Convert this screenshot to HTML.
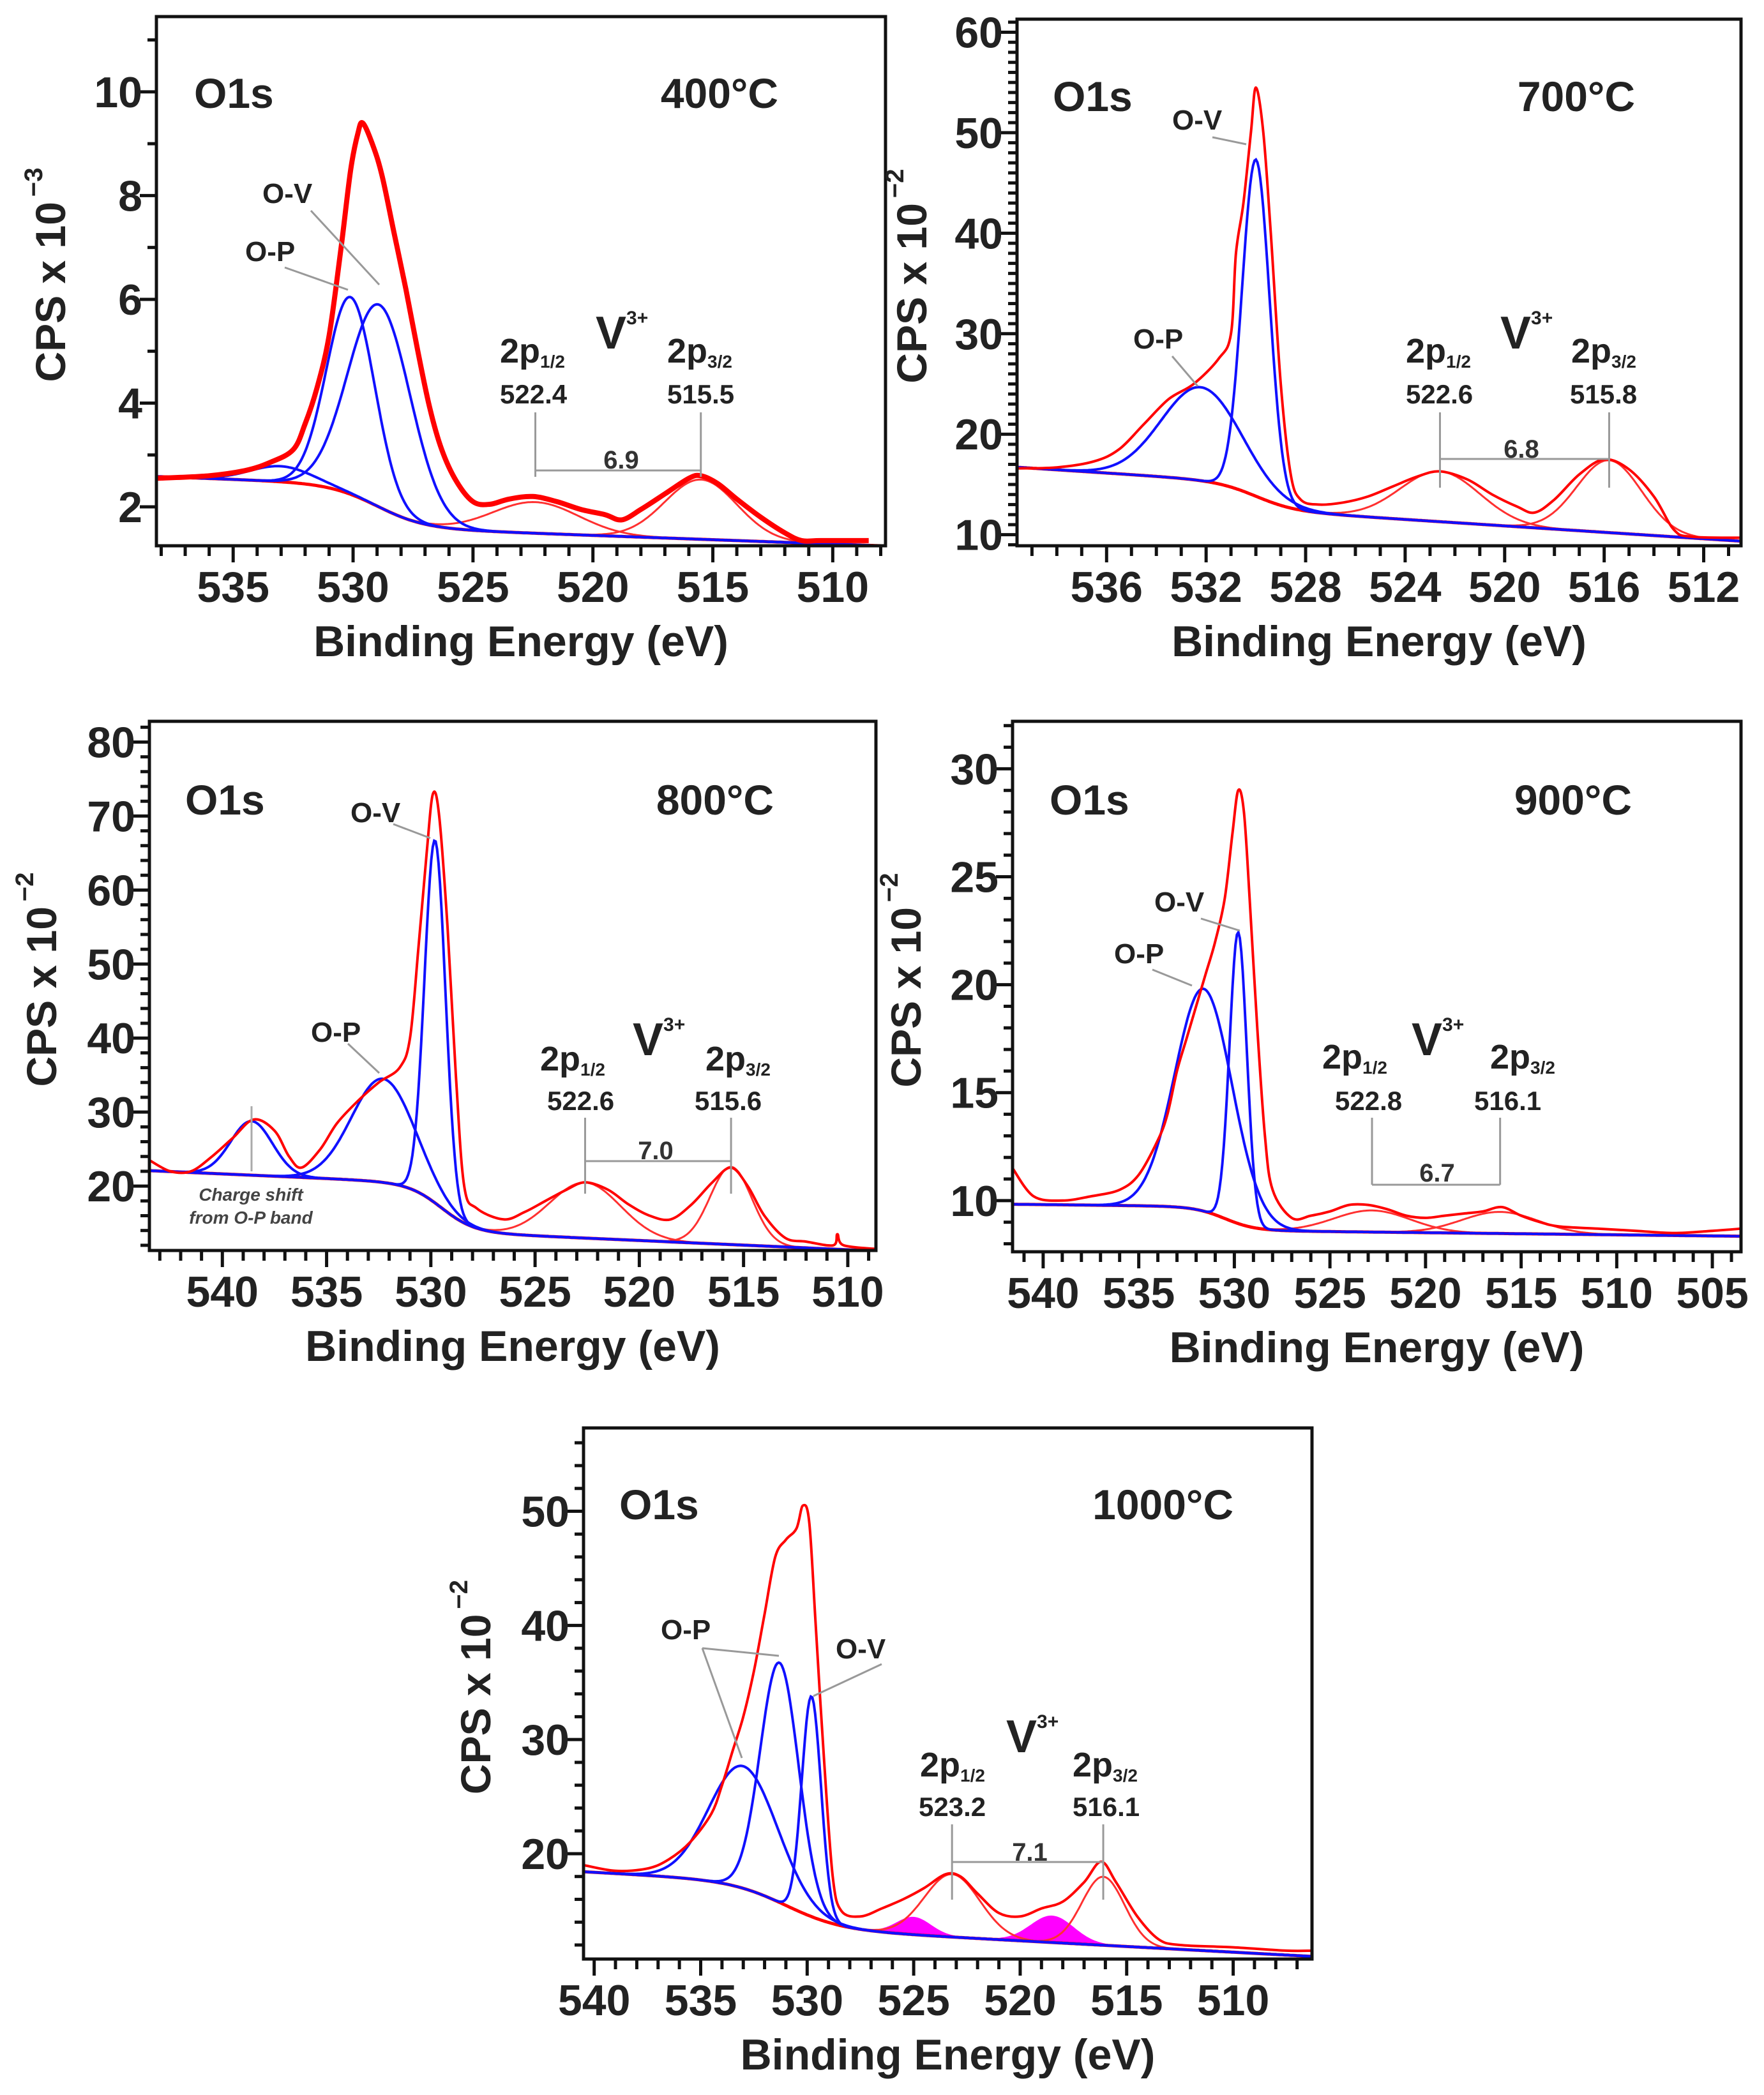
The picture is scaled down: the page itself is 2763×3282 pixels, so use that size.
<!DOCTYPE html>
<html><head><meta charset="utf-8"><title>O1s XPS spectra</title>
<style>
html,body{margin:0;padding:0;background:#fff;}
svg{display:block;}
text{font-family:"Liberation Sans",Arial,sans-serif;}
</style></head>
<body>
<svg id="fig" width="2763" height="3282" viewBox="0 0 2763 3282" xmlns="http://www.w3.org/2000/svg"></svg>
<script>
// ===== Panel 1 : 400°C (x10^-3) =====
const p1Energy = [538.2,536,534.5,533.5,532.5,532,531.5,531,530.5,530.1,529.8,529.6,529.2,528.8,528.3,527.8,527.3,526.8,526.3,525.7,525,524.3,523.5,522.5,521.5,520.5,519.5,518.8,518,517,516,515.5,514.8,514,513,512,511.3,510.5,508.5];
const p1Counts = [2.55,2.6,2.7,2.85,3.1,3.6,4.3,5.3,7.0,8.5,9.2,9.4,9.0,8.4,7.3,6.2,5.0,3.9,3.1,2.5,2.1,2.05,2.15,2.2,2.1,1.95,1.85,1.75,1.95,2.25,2.55,2.6,2.45,2.15,1.8,1.5,1.35,1.35,1.35];
const p1OCenters = [533.0,530.1,528.9];
const p1OHeights = [0.3,3.8,3.9];
const p1OWidths = [1.3,1.0,1.3];
const p1VCenters = [522.4,515.5];
const p1VHeights = [0.6,1.15];
const p1VWidths = [1.8,1.5];
const p1Bg = [1.3,511,0.0167,0.83,529,1.0];
const p1XTicks = [535,530,525,520,515,510];
const p1YTicks = [2,4,6,8,10];

// ===== Panel 2 : 700°C =====
const p2Energy = [539.6,538,536.5,535.5,534.5,533.5,532.5,531.5,531,530.8,530.5,530.2,530.0,529.7,529.4,529,528.6,528.2,527.5,526.5,525.5,524.5,523.5,522.6,521.5,520.5,519.5,518.8,518,517,516,515,514,513.2,512.5,510.5];
const p2Counts = [16.6,16.7,17.3,18.5,21,23.5,25,27.5,30,38,43,50,54.5,50,40,25,16,13.5,13,13.2,13.8,14.8,15.8,16.3,15.5,14,12.8,12.2,13.5,16,17.5,16.5,13.8,10.5,9.8,9.7];
const p2OCenters = [532.2,530.0];
const p2OHeights = [9.3,33.5];
const p2OWidths = [1.6,0.55];
const p2VCenters = [522.6,515.8];
const p2VHeights = [5,7.2];
const p2VWidths = [1.6,1.3];
const p2Bg = [9.6,512,0.16,2.7,530,0.8];
const p2XTicks = [536,532,528,524,520,516,512];
const p2YTicks = [10,20,30,40,50,60];

// ===== Panel 3 : 800°C =====
const p3Energy = [543.5,542.5,541.5,540.5,539.5,538.5,537.5,536.8,536.2,535.3,534.5,533.5,532.5,531.5,531,530.6,530.2,529.9,529.6,529.2,528.8,528.4,527.8,526.5,525.5,524.5,523.5,522.6,521.5,520.5,519.5,518.5,517.5,516.5,515.6,514.8,514,513,512,510.7,510.5,510.2,508.6];
const p3Counts = [23.5,22,22,24,26.5,29,27.5,24,22.5,25,28.5,31.5,34,36,40,52,65,73,70,55,35,20,17,15.5,16.5,18,19.5,20.5,19.5,17.5,16,15.5,17.5,20.5,22.5,20,16,13,12.5,12,13.5,12,11.5];
const p3OCenters = [538.6,532.3,529.8];
const p3OHeights = [7.3,14,49];
const p3OWidths = [1.0,1.5,0.5];
const p3VCenters = [522.6,515.6];
const p3VHeights = [7.5,10.5];
const p3VWidths = [1.7,1.0];
const p3Bg = [11.4,510,0.125,6.5,529.5,0.8];
const p3XTicks = [540,535,530,525,520,515,510];
const p3YTicks = [20,30,40,50,60,70,80];

// ===== Panel 4 : 900°C =====
const p4Energy = [541.6,540.5,539,537.5,536,535,534,533.5,533,532.5,532,531.5,531,530.5,530.1,529.8,529.5,529.2,528.8,528.4,528,527,526,525,524,523,522,521,520,519,518,517,516,515,514,513,511,509,507,505,503.5];
const p4Counts = [11.5,10.2,10,10.2,10.5,11.2,12.8,14,16,17.5,19,20.5,22,24,27,29,28,24,18,13,10.5,9.2,9.3,9.5,9.8,9.8,9.6,9.3,9.2,9.3,9.4,9.5,9.7,9.3,9.0,8.8,8.7,8.6,8.5,8.6,8.7];
const p4OCenters = [531.6,529.8];
const p4OHeights = [10.3,13.5];
const p4OWidths = [1.5,0.45];
const p4VCenters = [522.8,516.1];
const p4VHeights = [1.0,1.0];
const p4VWidths = [2.0,2.0];
const p4Bg = [8.35,503.5,0.01,1.1,530.5,0.8];
const p4XTicks = [540,535,530,525,520,515,510,505];
const p4YTicks = [10,15,20,25,30];

// ===== Panel 5 : 1000°C =====
const p5Energy = [540.5,539,537.5,536.5,535.5,534.5,534,533.5,533,532.5,532,531.5,531,530.5,530.2,529.9,529.6,529.2,528.8,528.4,527.5,526.5,525.5,524.5,523.5,522.8,522,521,520,519,518,517,516.2,515.5,514.5,513.5,512.5,510,507.5,506.3];
const p5Counts = [19,18.5,18.7,19.5,21,23.5,26,29,32,36,41,46,47.5,48.5,50.5,49,40,28,18,15,14.5,15.2,16,17,18.2,18,16.5,14.8,14.5,15.2,15.8,17.5,19.3,17.5,14.5,12.5,12,11.8,11.5,11.5];
const p5OCenters = [533.0,531.3,529.8];
const p5OHeights = [10.7,21,19.3];
const p5OWidths = [1.6,0.9,0.45];
const p5VCenters = [523.2,516.1];
const p5VHeights = [5.5,6.0];
const p5VWidths = [1.3,1.0];
const p5SatCenters = [525.0,518.5];
const p5SatHeights = [1.5,2.3];
const p5SatWidths = [0.8,1.0];
const p5Bg = [11.0,506.3,0.1,4,531,1.3];
const p5XTicks = [540,535,530,525,520,515,510];
const p5YTicks = [20,30,40,50];

const NS = "http://www.w3.org/2000/svg";
const svg = document.getElementById('fig');
function el(tag, attrs, parent, txt){
  const e = document.createElementNS(NS, tag);
  for (const k in attrs) e.setAttribute(k, attrs[k]);
  if (txt !== undefined) e.textContent = txt;
  (parent||svg).appendChild(e);
  return e;
}
function bgVal(p, e){
  return p[0] + p[2]*(e - p[1]) + p[3]/(1+Math.exp(-(e - p[4])/p[5]));
}
function gauss(c,h,w,e){ return h*Math.exp(-Math.pow((e-c)/w,2)/2); }
function smoothPath(pts){
  let d = 'M'+pts[0][0].toFixed(1)+','+pts[0][1].toFixed(1);
  for (let i=0;i<pts.length-1;i++){
    const p0 = pts[Math.max(0,i-1)], p1 = pts[i], p2 = pts[i+1], p3 = pts[Math.min(pts.length-1,i+2)];
    const c1x = p1[0]+(p2[0]-p0[0])/6, c1y = p1[1]+(p2[1]-p0[1])/6;
    const c2x = p2[0]-(p3[0]-p1[0])/6, c2y = p2[1]-(p3[1]-p1[1])/6;
    d += ' C'+c1x.toFixed(1)+','+c1y.toFixed(1)+' '+c2x.toFixed(1)+','+c2y.toFixed(1)+' '+p2[0].toFixed(1)+','+p2[1].toFixed(1);
  }
  return d;
}

const panels = [
 {id:'400', title:'400°C', exp:'−3', box:[245,26,1387,855], xr:[538.2,507.8], yr:[1.25,11.45], xMinor:1, yMinor:1,
  E:p1Energy, C:p1Counts, oc:p1OCenters, oh:p1OHeights, ow:p1OWidths, vc:p1VCenters, vh:p1VHeights, vw:p1VWidths, bg:p1Bg, xt:p1XTicks, yt:p1YTicks, redW:8,
  ylabX:85, o1s:[304,169], temp:[1219,169],
  ann:{ov:[411,318,487,330,594,446], op:[384,409,446,419,545,454], p12:[783,568], V:[933,546], p32:[1045,568], n1:['522.4',783,632], n2:['515.5',1045,632], vtop:646, vbot:747, hy:737, sep:['6.9',973,734]}},
 {id:'700', title:'700°C', exp:'−2', box:[1593,30,2727,855], xr:[539.6,510.5], yr:[8.9,61.3], xMinor:1, yMinor:1,
  E:p2Energy, C:p2Counts, oc:p2OCenters, oh:p2OHeights, ow:p2OWidths, vc:p2VCenters, vh:p2VHeights, vw:p2VWidths, bg:p2Bg, xt:p2XTicks, yt:p2YTicks, redW:4,
  ylabX:1434, o1s:[1649,174], temp:[2561,174],
  ann:{ov:[1836,203,1899,215,1952,226], op:[1775,546,1836,558,1876,605], p12:[2202,568], V:[2350,546], p32:[2461,568], n1:['522.6',2202,632], n2:['515.8',2459,632], vtop:646, vbot:764, hy:719, sep:['6.8',2383,717]}},
 {id:'800', title:'800°C', exp:'−2', box:[234,1130,1372,1959], xr:[543.5,508.65], yr:[11.3,82.8], xMinor:1, yMinor:2,
  E:p3Energy, C:p3Counts, oc:p3OCenters, oh:p3OHeights, ow:p3OWidths, vc:p3VCenters, vh:p3VHeights, vw:p3VWidths, bg:p3Bg, xt:p3XTicks, yt:p3YTicks, redW:4,
  ylabX:71, o1s:[290,1276], temp:[1212,1276],
  ann:{ov:[549,1288,616,1291,674,1313], op:[487,1632,545,1635,594,1681], p12:[846,1677], V:[991,1653], p32:[1105,1677], n1:['522.6',857,1739], n2:['515.6',1088,1739], vtop:1751, vbot:1870, hy:1819, sep:['7.0',1027,1816]},
  charge:true},
 {id:'900', title:'900°C', exp:'−2', box:[1586,1130,2727,1961], xr:[541.6,503.5], yr:[7.63,32.2], xMinor:1, yMinor:1,
  E:p4Energy, C:p4Counts, oc:p4OCenters, oh:p4OHeights, ow:p4OWidths, vc:p4VCenters, vh:p4VHeights, vw:p4VWidths, bg:p4Bg, xt:p4XTicks, yt:p4YTicks, redW:4,
  ylabX:1425, o1s:[1644,1276], temp:[2556,1276],
  ann:{ov:[1808,1428,1881,1439,1942,1458], op:[1745,1509,1805,1519,1867,1544], p12:[2071,1674], V:[2211,1653], p32:[2334,1674], n1:['522.8',2091,1739], n2:['516.1',2309,1739], vtop:1751, vbot:1856, hy:1856, sep:['6.7',2251,1851]}},
 {id:'1000', title:'1000°C', exp:'−2', box:[914,2237,2055,3069], xr:[540.5,506.3], yr:[10.77,57.3], xMinor:1, yMinor:2,
  E:p5Energy, C:p5Counts, oc:p5OCenters, oh:p5OHeights, ow:p5OWidths, vc:p5VCenters, vh:p5VHeights, vw:p5VWidths, bg:p5Bg, xt:p5XTicks, yt:p5YTicks, redW:4,
  ylabX:751, o1s:[970,2380], temp:[1932,2380],
  ann:{op:[1035,2568,1100,2582,1220,2594], op2:[1100,2582,1162,2754], ov:[1309,2598,1381,2607,1274,2657], p12:[1441,2783], V:[1576,2745], p32:[1680,2783], n1:['523.2',1439,2845], n2:['516.1',1680,2845], vtop:2858, vbot:2976, hy:2917, sep:['7.1',1613,2915]},
  sat:true}
];

panels.forEach(P => {
  const [L,T,R,B] = P.box;
  const g = el('g', {});
  
  
  const xS = e => L + (P.xr[0]-e)/(P.xr[0]-P.xr[1])*(R-L);
  const yS = v => B - (v-P.yr[0])/(P.yr[1]-P.yr[0])*(B-T);
  const clipId = 'clip'+P.id;
  const cp = el('clipPath', {id:clipId}, g);
  el('rect', {x:L, y:T, width:R-L, height:B-T}, cp);
  const plot = el('g', {'clip-path':'url(#'+clipId+')'}, g);
  
  

  const N = 500;
  const es = [];
  for (let i=0;i<=N;i++) es.push(P.xr[0] - (P.xr[0]-P.xr[1])*i/N);
  const pathOf = (arrE, f) => arrE.map((e,i)=> (i?'L':'M')+xS(e).toFixed(1)+','+yS(f(e,i)).toFixed(1)).join(' ');

  if (P.sat) {
    p5SatCenters.forEach((c,k)=>{
      const ee = es.filter(e=>Math.abs(e-c)<3.5*p5SatWidths[k]);
      let d = pathOf(ee, e=>bgVal(P.bg,e)+gauss(c,p5SatHeights[k],p5SatWidths[k],e));
      d += ' ' + ee.slice().reverse().map(e=>'L'+xS(e).toFixed(1)+','+yS(bgVal(P.bg,e)).toFixed(1)).join(' ') + ' Z';
      const s = el('path', {d:d, fill:'#ff00ff', stroke:'#ff00ff', 'stroke-width':2}, plot);
      
      
    });
  }
  P.vc.forEach((c,k)=>{
    const ee = es.filter(e=>Math.abs(e-c)<3.5*P.vw[k]);
    const s = el('path', {d:pathOf(ee, e=>bgVal(P.bg,e)+gauss(c,P.vh[k],P.vw[k],e)), fill:'none', stroke:'#ff3030', 'stroke-width':3}, plot);
    
    
  });
  const bgp = el('path', {d:pathOf(es, e=>bgVal(P.bg,e)), fill:'none', stroke:'#ff0000', 'stroke-width':5}, plot);
  
  
  P.oc.forEach((c,k)=>{
    const s = el('path', {d:pathOf(es, e=>bgVal(P.bg,e)+gauss(c,P.oh[k],P.ow[k],e)), fill:'none', stroke:'#1010ff', 'stroke-width':4}, plot);
    
    
  });
  const mpts = P.E.map((e,i)=>[xS(e), yS(P.C[i])]);
  const m = el('path', {d:smoothPath(mpts), fill:'none', stroke:'#ff0000', 'stroke-width':P.redW, 'stroke-linejoin':'round'}, plot);
  
  

  const fr = el('rect', {x:L, y:T, width:R-L, height:B-T, fill:'none', stroke:'#111', 'stroke-width':5}, g);
  
  

  const xa = el('g', {}, g);
  
  
  for (let v=Math.ceil(P.xr[1]); v<=Math.floor(P.xr[0]); v+=P.xMinor) {
    const major = P.xt.indexOf(v) >= 0;
    el('line', {x1:xS(v), x2:xS(v), y1:B, y2:B+(major?26:16), stroke:'#111', 'stroke-width':5}, xa);
  }
  P.xt.forEach(v=>{
    const t = el('text', {x:xS(v), y:B+88, 'text-anchor':'middle', 'font-size':68, 'font-weight':'bold', fill:'#222'}, xa, String(v));
    
    
  });
  const xt = el('text', {x:(L+R)/2, y:B+173, 'text-anchor':'middle', 'font-size':68, 'font-weight':'bold', fill:'#222'}, g, 'Binding Energy (eV)');
  
  

  const ya = el('g', {}, g);
  
  
  for (let v=Math.ceil(P.yr[0]/P.yMinor)*P.yMinor; v<=P.yr[1]; v+=P.yMinor) {
    const major = P.yt.indexOf(v) >= 0;
    el('line', {x1:L-(major?26:14), x2:L, y1:yS(v), y2:yS(v), stroke:'#111', 'stroke-width':5}, ya);
  }
  P.yt.forEach(v=>{
    const t = el('text', {x:L-22, y:yS(v)+24, 'text-anchor':'end', 'font-size':68, 'font-weight':'bold', fill:'#222'}, ya, String(v));
    
    
  });
  const yc = (T+B)/2 - 10;
  const yl = el('text', {x:P.ylabX, y:yc, transform:'rotate(-90 '+P.ylabX+' '+yc+')', 'text-anchor':'middle', 'dominant-baseline':'middle', 'font-size':66, 'font-weight':'bold', fill:'#222'}, g);
  
  
  el('tspan', {}, yl, 'CPS x 10');
  el('tspan', {'font-size':40, dy:-30, dx:8}, yl, P.exp);

  const o = el('text', {x:P.o1s[0], y:P.o1s[1], 'font-size':66, 'font-weight':'bold', fill:'#222'}, g, 'O1s');
  
  
  const tt = el('text', {x:P.temp[0], y:P.temp[1], 'text-anchor':'end', 'font-size':66, 'font-weight':'bold', fill:'#222'}, g, P.title);
  
  

  const A = P.ann;
  const ag = el('g', {}, g);
  
  
  const lbl = (txt,x,y,size,name)=>{ const t=el('text',{x:x,y:y,'font-size':size,'font-weight':'bold',fill:'#222'},ag,txt);   return t; };
  lbl('O-V', A.ov[0], A.ov[1], 44, 'o-v-label');
  el('line', {x1:A.ov[2],y1:A.ov[3],x2:A.ov[4],y2:A.ov[5],stroke:'#999','stroke-width':3}, ag);
  lbl('O-P', A.op[0], A.op[1], 44, 'o-p-label');
  el('line', {x1:A.op[2],y1:A.op[3],x2:A.op[4],y2:A.op[5],stroke:'#999','stroke-width':3}, ag);
  if (A.op2) el('line', {x1:A.op2[0],y1:A.op2[1],x2:A.op2[2],y2:A.op2[3],stroke:'#999','stroke-width':3}, ag);
  const p12 = lbl('2p', A.p12[0], A.p12[1], 54, 'v2p12-label');
  el('tspan', {'font-size':28, dy:8}, p12, '1/2');
  const V = lbl('V', A.V[0], A.V[1], 72, 'v3plus-label');
  el('tspan', {'font-size':30, dy:-38}, V, '3+');
  const p32 = lbl('2p', A.p32[0], A.p32[1], 54, 'v2p32-label');
  el('tspan', {'font-size':28, dy:8}, p32, '3/2');
  lbl(A.n1[0], A.n1[1], A.n1[2], 42, 'peak-position-label');
  lbl(A.n2[0], A.n2[1], A.n2[2], 42, 'peak-position-label');
  const x1 = xS(parseFloat(A.n1[0])), x2 = xS(parseFloat(A.n2[0]));
  el('line', {x1:x1,x2:x1,y1:A.vtop,y2:A.vbot,stroke:'#999','stroke-width':3}, ag);
  el('line', {x1:x2,x2:x2,y1:A.vtop,y2:A.vbot,stroke:'#999','stroke-width':3}, ag);
  el('line', {x1:x1,x2:x2,y1:A.hy,y2:A.hy,stroke:'#999','stroke-width':3}, ag);
  const sp = el('text', {x:A.sep[1], y:A.sep[2], 'text-anchor':'middle', 'font-size':40, 'font-weight':'bold', fill:'#333'}, ag, A.sep[0]);
  
  
  if (P.charge) {
    const cx = xS(538.6);
    el('line', {x1:cx,x2:cx,y1:1733,y2:1835,stroke:'#aaa','stroke-width':3}, ag);
    const c1 = el('text', {x:393, y:1881, 'text-anchor':'middle', 'font-size':28, 'font-style':'italic', 'font-weight':'bold', fill:'#444'}, ag, 'Charge shift');
    
    
    const c2 = el('text', {x:393, y:1917, 'text-anchor':'middle', 'font-size':28, 'font-style':'italic', 'font-weight':'bold', fill:'#444'}, ag, 'from O-P band');
    
    
  }
});
</script>
</body></html>
